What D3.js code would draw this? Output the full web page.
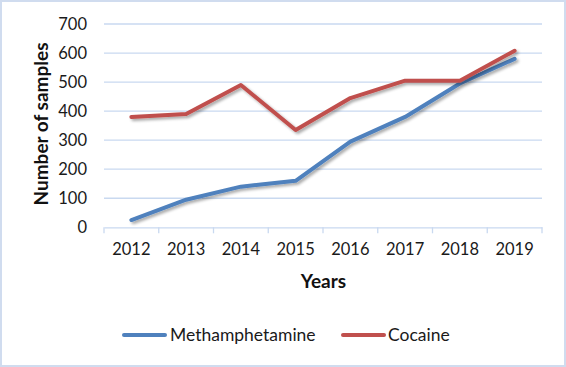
<!DOCTYPE html>
<html><head><meta charset="utf-8">
<script src="https://cdn.jsdelivr.net/npm/d3@7"></script>
<style>body{margin:0;background:#fff}svg{display:block}</style>
</head><body>
<script>
const years = ["2012","2013","2014","2015","2016","2017","2018","2019"];
const methamphetamine = [25, 95, 140, 160, 295, 380, 495, 580];
const cocaine = [380, 390, 490, 335, 445, 505, 505, 608];
const yTicks = [0,100,200,300,400,500,600,700];
const seriesNames = ["Methamphetamine","Cocaine"];
const colors = ["#4f81bd","#c0504d"];

const W=566,H=367;
const svg=d3.select("body").append("svg").attr("width",W).attr("height",H);
const font="Lato, 'Open Sans', sans-serif";
svg.append("rect").attr("x",1).attr("y",1).attr("width",W-2).attr("height",H-2)
  .attr("fill","#fff").attr("stroke","#d0dcef").attr("stroke-width",2);

const defs=svg.append("defs");
const f=defs.append("filter").attr("id","sh").attr("x","-10%").attr("y","-10%").attr("width","120%").attr("height","130%");
f.append("feGaussianBlur").attr("in","SourceAlpha").attr("stdDeviation",1.5);
f.append("feOffset").attr("dx",1.5).attr("dy",2).attr("result","o");
f.append("feComponentTransfer").append("feFuncA").attr("type","linear").attr("slope",0.35);
const m=f.append("feMerge");m.append("feMergeNode");m.append("feMergeNode").attr("in","SourceGraphic");

const x=d3.scaleBand().domain(years).range([104,542]);
const y=d3.scaleLinear().domain([0,700]).range([227.3,24]);

// gridlines
svg.append("g").selectAll("line").data(yTicks.slice(1)).join("line")
  .attr("x1",104).attr("x2",542).attr("y1",d=>y(d)).attr("y2",d=>y(d))
  .attr("stroke","#c9d9f0").attr("stroke-width",1.3);

// y axis labels
const ya=svg.append("g").attr("transform","translate(87,0)")
  .call(d3.axisLeft(y).tickValues(yTicks).tickSize(0).tickPadding(0));
ya.select(".domain").remove();
ya.selectAll("text").attr("font-family",font).attr("font-size",16.5).attr("fill","#1a1a1a");

// x axis
const xa=svg.append("g").attr("transform",`translate(0,${y(0)})`)
  .call(d3.axisBottom(x).tickSize(0).tickPadding(16));
xa.select(".domain").attr("stroke","#c9d9f0").attr("stroke-width",1.3);
xa.selectAll("text").attr("font-family",font).attr("font-size",16.5).attr("fill","#1a1a1a");
const edges=years.map(d=>x(d)).concat([x.range()[1]]);
svg.append("g").selectAll("line").data(edges).join("line")
  .attr("x1",d=>d).attr("x2",d=>d).attr("y1",y(0)).attr("y2",y(0)+6)
  .attr("stroke","#c9d9f0").attr("stroke-width",1.3);

// titles
svg.append("text").attr("transform","translate(48,124) rotate(-90)").attr("text-anchor","middle")
  .attr("font-family",font).attr("font-weight","bold").attr("font-size",19).attr("fill","#111")
  .text("Number of samples");
svg.append("text").attr("x",323.5).attr("y",287.5).attr("text-anchor","middle")
  .attr("font-family",font).attr("font-weight","bold").attr("font-size",19).attr("fill","#111")
  .text("Years");

// lines
const line=d3.line().x((d,i)=>x(years[i])+x.bandwidth()/2).y(d=>y(d));
[methamphetamine,cocaine].forEach((s,i)=>{
  svg.append("path").datum(s).attr("d",line).attr("fill","none")
    .attr("stroke",colors[i]).attr("stroke-width",4).attr("stroke-linejoin","round")
    .attr("stroke-linecap","round").attr("filter","url(#sh)");
});

// legend
const lg=[{x1:124,x2:165,tx:170},{x1:343,x2:384,tx:388}];
seriesNames.forEach((n,i)=>{
  svg.append("line").attr("x1",lg[i].x1).attr("x2",lg[i].x2).attr("y1",335).attr("y2",335)
    .attr("stroke",colors[i]).attr("stroke-width",4).attr("stroke-linecap","round");
  svg.append("text").attr("x",lg[i].tx).attr("y",341).attr("font-family",font).attr("font-size",17.5)
    .attr("fill","#1a1a1a").text(n);
});
</script>
</body></html>
